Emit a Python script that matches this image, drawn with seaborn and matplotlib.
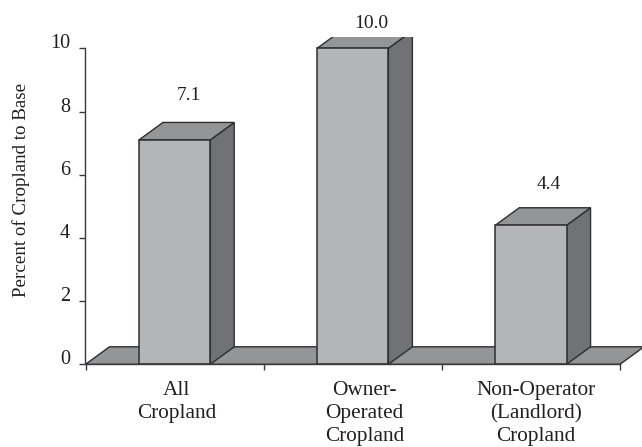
import matplotlib
matplotlib.use('Agg')
import matplotlib.pyplot as plt
from matplotlib.patches import Polygon
from matplotlib.transforms import ScaledTranslation
import pandas as pd
import seaborn as sns

categories = ['All\nCropland', 'Owner-\nOperated\nCropland', 'Non-Operator\n(Landlord)\nCropland']
values = [7.1, 10.0, 4.4]
value_labels = ['7.1', '10.0', '4.4']
y_ticks = [0, 2, 4, 6, 8, 10]

FRONT = '#b4b5b7'
SIDE = '#717275'
TOP = '#949597'
EDGE = '#2e2e30'
TEXT = '#231f20'

sns.set_theme(style='white')
plt.rcParams['font.family'] = ['Liberation Serif', 'DejaVu Serif']

W, H = 642, 447
fig = plt.figure(figsize=(W / 100, H / 100), dpi=100)
# axes box in pixels, top edge is where the 3d tops get cut off in the original
left, right, top, bottom = 85.5, 620, 37, 364.3
ax = fig.add_axes([left / W, 1 - bottom / H, (right - left) / W, (bottom - top) / H])

df = pd.DataFrame({'category': categories, 'value': values})
sns.barplot(data=df, x='category', y='value', color=FRONT, saturation=1, width=0.4,
            edgecolor=EDGE, linewidth=1.1, ax=ax, zorder=3)

px_per_unit = (bottom - 48.3) / 10
ax.set_xlim(-0.5, 2.5)
ax.set_ylim(0, (bottom - top) / px_per_unit)

# depth of the fake 3d, in data units
dx = 24 / ((right - left) / 3)
dy = 17.5 / px_per_unit

# floor
ax.add_patch(Polygon([(-0.5, 0), (-0.5 + dx, dy), (2.5 + dx, dy), (2.5, 0)], closed=True,
                     facecolor=TOP, edgecolor=EDGE, linewidth=1.0, clip_on=False, zorder=1))

# sides and tops of the bars
for bar in ax.patches[:3]:
    x0, x1 = bar.get_x(), bar.get_x() + bar.get_width()
    h = bar.get_height()
    ax.add_patch(Polygon([(x1, 0), (x1 + dx, dy), (x1 + dx, h + dy), (x1, h)], closed=True,
                         facecolor=SIDE, edgecolor=EDGE, linewidth=1.0, zorder=2))
    ax.add_patch(Polygon([(x0, h), (x0 + dx, h + dy), (x1 + dx, h + dy), (x1, h)], closed=True,
                         facecolor=TOP, edgecolor=EDGE, linewidth=1.0, zorder=2))

# labels float above the bars, not evenly spaced
label_offsets = [(14, 44), (19, 25), (18, 41)]
for i, (txt, off) in enumerate(zip(value_labels, label_offsets)):
    ax.annotate(txt, (i, values[i]), xytext=(off[0] * 0.72, off[1] * 0.72), textcoords='offset points',
                ha='center', va='center', fontsize=14, color=TEXT, annotation_clip=False)

sns.despine(ax=ax, top=True, right=True)
ax.spines['left'].set_bounds(0, 10)
ax.spines['left'].set_color('#3a3a3c')
ax.spines['bottom'].set_color('#3a3a3c')
ax.spines['left'].set_linewidth(1.0)
ax.spines['bottom'].set_linewidth(1.0)
ax.spines['left'].set_zorder(5)
ax.spines['bottom'].set_zorder(5)

ax.set_yticks(y_ticks)
ax.tick_params(axis='y', left=True, length=4, width=1, color='#3a3a3c', pad=7, labelsize=14.5, labelcolor=TEXT)
ax.set_xticks([0, 1, 2])
ax.set_xticklabels(categories)
ax.set_xticks([-0.5, 0.5, 1.5, 2.5], minor=True)
ax.tick_params(axis='x', which='major', bottom=False, pad=6, labelsize=15.3, labelcolor=TEXT)
ax.tick_params(axis='x', which='minor', bottom=True, length=4, width=1, color='#3a3a3c')
ax.set_xlabel('')
ax.set_ylabel('Percent of Cropland to Base', fontsize=13.7, color=TEXT)
ax.yaxis.set_label_coords((30 - left) / (right - left), (bottom - 190) / (bottom - top))

# the tick labels sit a bit off their ticks in the original
for lab in ax.get_yticklabels():
    lab.set_transform(lab.get_transform() + ScaledTranslation(0, 7 / 100, fig.dpi_scale_trans))
for lab, shift in zip(ax.get_xticklabels(), [2, 12, 5]):
    lab.set_linespacing(1.28)
    lab.set_transform(lab.get_transform() + ScaledTranslation(shift / 100, 0, fig.dpi_scale_trans))

fig.savefig('out.png', dpi=100)
